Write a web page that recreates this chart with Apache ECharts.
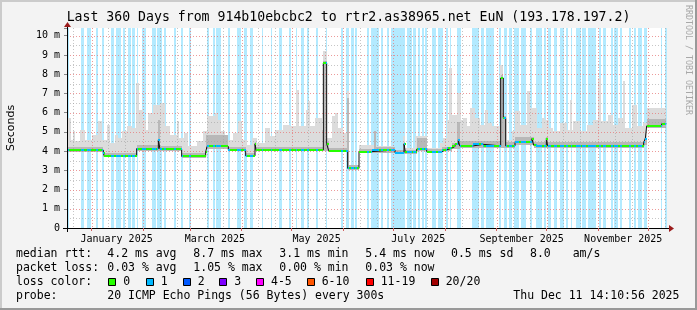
<!DOCTYPE html>
<html><head><meta charset="utf-8">
<script src="https://cdn.jsdelivr.net/npm/echarts@6/dist/echarts.min.js"></script>
<style>html,body{margin:0;padding:0;background:#f3f3f3}#c{width:697px;height:310px}</style>
</head><body><div id="c"></div>
<script>
// ---------------- data ----------------
const TITLE = 'Last 360 Days from 914b10ebcbc2 to rtr2.as38965.net EuN (193.178.197.2)';
const Y_TITLE = 'Seconds';
const START = Date.UTC(2024, 11, 17, 6, 0, 0);   // left edge of the time axis
const SPAN_DAYS = 360;
const DATA_END = 359.6;                           // last sample (days from start)
const Y_MAX = 10.4;                               // ms

const monthLabels = ['January 2025', 'March 2025', 'May 2025', 'July 2025', 'September 2025', 'November 2025'];
const monthLabelDates = ['2025-01-16', '2025-03-16', '2025-05-16', '2025-07-16', '2025-09-16', '2025-11-16'];
const monthStartDates = ['2025-01-01', '2025-02-01', '2025-03-01', '2025-04-01', '2025-05-01', '2025-06-01',
  '2025-07-01', '2025-08-01', '2025-09-01', '2025-10-01', '2025-11-01', '2025-12-01'];
const minorDates = ['2024-12-21', '2025-01-11', '2025-01-21', '2025-02-11', '2025-02-21', '2025-03-11', '2025-03-21',
  '2025-04-11', '2025-04-21', '2025-05-11', '2025-05-21', '2025-06-11', '2025-06-21', '2025-07-11', '2025-07-21',
  '2025-08-11', '2025-08-21', '2025-09-11', '2025-09-21', '2025-10-11', '2025-10-21', '2025-11-11', '2025-11-21', '2025-12-11'];
const yMajor = [1, 2, 3, 4, 5, 6, 7, 8, 9, 10];
const yMinor = [0.5, 1.5, 2.5, 3.5, 4.5, 5.5, 6.5, 7.5, 8.5, 9.5];

// periods (days from start) with 1 lost ping out of 20
const lossDays = [[0, 1.2], [8.2, 10.2], [11.8, 14.6], [17.6, 18.8], [20.8, 22.2], [26.2, 28.2], [29.2, 32.6], [33.4, 34.8],
  [36.6, 38.2], [39.2, 40.6], [42.0, 42.6], [45.0, 47.6], [51.0, 53.6], [54.2, 56.8], [58.2, 59.4], [64.2, 65.4],
  [68.6, 69.8], [73.2, 74.4], [84.0, 85.4], [87.4, 88.6], [89.2, 92.6], [96.8, 98.0], [102.2, 104.6], [106.0, 108.2],
  [109.8, 111.8], [116.8, 117.8], [122.6, 123.2], [127.2, 128.8], [133.0, 134.2], [137.2, 138.2], [140.6, 142.2],
  [144.2, 145.2], [149.6, 150.4], [155.2, 156.2], [164.6, 165.4], [167.2, 169.2], [170.4, 172.2], [172.8, 173.8],
  [179.8, 181.2], [182.6, 187.0], [188.6, 189.6], [192.2, 193.4], [194.2, 202.8], [204.2, 206.8], [207.6, 209.4],
  [210.6, 211.8], [213.2, 214.2], [215.0, 215.8], [219.2, 221.2], [222.6, 225.4], [227.2, 228.6], [229.6, 230.2],
  [234.2, 236.2], [243.2, 247.2], [248.2, 250.2], [251.2, 256.2], [259.2, 260.6], [262.2, 263.8], [265.4, 267.2],
  [268.2, 271.2], [272.2, 275.2], [277.6, 279.2], [281.2, 284.8], [286.2, 287.4], [288.8, 290.2], [292.2, 294.2],
  [295.6, 298.2], [299.2, 300.6], [302.2, 303.2], [305.2, 308.2], [309.2, 311.2], [312.6, 317.6], [319.2, 320.2],
  [321.8, 323.4], [326.2, 327.4], [328.2, 330.6], [331.8, 333.2], [337.2, 338.2], [340.2, 341.4], [342.6, 345.2],
  [346.2, 347.8], [356.2, 357.2], [358.6, 359.8]];

// median rtt (ms), value held from given day onward
const medianSteps = [[0, 4.05], [21.8, 3.89], [22.4, 3.75], [41.8, 4.13], [54.8, 4.58], [55.8, 4.1], [68.8, 3.72],
  [83.2, 3.95], [84.0, 4.24], [96.8, 4.06], [107.2, 3.75], [112.8, 4.38], [113.4, 4.06], [153.8, 8.58], [155.8, 4.38],
  [157.0, 4.02], [168.4, 3.1], [175.2, 3.97], [182.8, 4.06], [196.8, 3.92], [202.2, 4.38], [203.0, 3.94], [209.8, 4.1],
  [215.8, 3.97], [224.8, 4.06], [227.8, 4.15], [230.8, 4.24], [232.8, 4.35], [234.8, 4.58], [235.6, 4.27], [243.8, 4.35],
  [249.8, 4.27], [260.2, 7.8], [261.8, 5.71], [263.2, 4.27], [268.8, 4.45], [279.0, 4.65], [280.0, 4.3], [281.4, 4.24],
  [287.6, 4.65], [288.4, 4.27], [346.0, 4.45], [347.0, 4.65], [347.8, 5.31], [356.8, 5.42]];

// smoke: highest ping (ms)
const smokeMaxSteps = [[0, 5.71], [2.2, 4.58], [3.8, 5.02], [4.8, 4.5], [7.8, 5.1], [10.8, 4.58], [14.8, 4.84], [18.8, 5.54],
  [20.8, 4.58], [23.8, 5.36], [25.8, 4.41], [28.8, 4.84], [30.8, 4.67], [32.8, 5.02], [35.8, 5.28], [38.8, 5.19],
  [41.4, 7.54], [43.0, 6.15], [45.8, 5.62], [47.4, 5.1], [48.8, 5.97], [51.8, 6.41], [55.8, 6.5], [58.8, 5.28],
  [61.8, 4.84], [66.2, 5.54], [67.4, 4.67], [70.2, 4.93], [72.8, 4.24], [77.8, 4.5], [81.8, 5.02], [83.8, 5.8],
  [88.8, 5.97], [90.8, 5.62], [92.2, 5.02], [94.8, 4.84], [96.8, 4.58], [99.8, 4.93], [102.8, 5.54], [104.8, 4.58],
  [107.8, 4.32], [110.8, 4.67], [113.8, 4.41], [118.8, 5.19], [121.8, 4.76], [124.8, 5.1], [129.8, 5.36], [133.8, 5.28],
  [137.4, 7.19], [139.4, 5.28], [143.4, 6.15], [144.6, 6.58], [145.8, 5.28], [148.8, 5.71], [152.8, 5.1], [153.8, 9.18],
  [155.8, 4.67], [158.8, 5.8], [160.8, 5.97], [162.8, 5.19], [165.8, 4.93], [168.2, 7.1], [169.4, 3.28], [175.2, 4.32],
  [184.2, 5.02], [185.4, 4.27], [195.8, 3.98], [201.8, 4.76], [203.0, 4.15], [208.8, 4.76], [215.8, 4.15], [223.8, 4.41],
  [225.8, 4.67], [228.2, 5.62], [229.4, 8.32], [230.8, 5.89], [234.2, 7.02], [235.8, 5.62], [237.8, 5.71], [239.8, 5.28],
  [241.8, 6.23], [244.8, 5.71], [247.8, 5.36], [250.8, 6.15], [252.8, 5.45], [254.8, 5.28], [259.8, 8.49], [261.8, 5.8],
  [263.8, 4.58], [266.8, 5.02], [268.8, 6.06], [271.8, 5.36], [275.8, 7.1], [277.8, 6.23], [281.8, 5.19], [284.8, 5.71],
  [286.8, 5.62], [288.8, 5.19], [291.8, 5.02], [295.8, 5.45], [299.8, 5.1], [301.8, 6.67], [303.0, 5.1], [303.8, 5.54],
  [307.8, 5.02], [311.8, 5.36], [315.8, 5.62], [318.8, 7.8], [320.2, 5.54], [324.8, 5.89], [327.8, 5.36], [330.8, 5.71],
  [333.4, 7.62], [335.0, 5.19], [338.8, 6.41], [341.8, 5.28], [345.8, 5.45], [347.8, 6.23]];

// smoke: upper edge of the dense (darker) part
const smokeCoreSteps = [[0, 4.2], [21.8, 3.92], [41.8, 4.3], [54.8, 5.6], [55.8, 4.25], [68.8, 3.9], [83.2, 4.85],
  [96.8, 4.22], [107.2, 3.9], [112.8, 4.45], [113.4, 4.2], [153.8, 8.7], [155.8, 4.45], [157.0, 4.18], [168.2, 6.77],
  [168.8, 3.3], [175.2, 4.12], [184.2, 5.02], [185.4, 4.22], [196.8, 4.05], [202.2, 4.45], [203.0, 4.08], [209.8, 4.7],
  [215.8, 4.12], [224.8, 4.22], [230.8, 4.4], [234.2, 5.5], [235.6, 4.5], [260.2, 7.95], [261.8, 5.8], [263.2, 4.48],
  [268.8, 4.75], [280.0, 4.45], [287.6, 4.75], [288.4, 4.45], [346.0, 4.7], [347.8, 5.65]];

// smoke: lowest ping (ms)
const smokeMinSteps = [[0, 3.97], [21.8, 3.68], [41.8, 4.02], [68.8, 3.63], [83.2, 4.12], [96.8, 3.98], [107.2, 3.67],
  [112.8, 3.98], [168.4, 3.02], [175.2, 3.9], [196.8, 3.84], [209.8, 4.0], [215.8, 3.9], [224.8, 3.98], [230.8, 4.12],
  [235.6, 4.18], [268.8, 4.32], [280.0, 4.16], [346.0, 4.3], [347.8, 5.2]];

const lossColors = [['0', '#26ff00'], ['1', '#00b8ff'], ['2', '#0059ff'], ['3', '#7e00ff'], ['4-5', '#ff00ff'],
  ['6-10', '#ff5500'], ['11-19', '#ff0000'], ['20/20', '#a10000']];

const legendRows = [
  [['median rtt:', 16], ['4.2 ms avg', 107.3], ['8.7 ms max', 193.3], ['3.1 ms min', 279.3], ['5.4 ms now', 365.3], ['0.5 ms sd', 451], ['8.0', 530], ['am/s', 572.7]],
  [['packet loss:', 16], ['0.03 % avg', 107.3], ['1.05 % max', 193.3], ['0.00 % min', 279.3], ['0.03 % now', 365.3]],
  [['loss color:', 16]],
  [['probe:', 16], ['20 ICMP Echo Pings (56 Bytes) every 300s', 107.3], ['Thu Dec 11 14:10:56 2025', 513.3]]
];
const legendBoxX = [108.3, 145.7, 182.7, 219.3, 256, 306.7, 365.7, 430.7];
const legendRowY = [254, 268, 282, 296];

// ---------------- helpers ----------------
const toDay = s => (Date.parse(s + 'T00:00:00Z') - START) / 86400000;
function stepAt(steps, d) { let v = steps[0][1]; for (const s of steps) { if (s[0] <= d + 1e-9) v = s[1]; else break; } return v; }
function inLoss(d) { return lossDays.some(r => d >= r[0] && d < r[1]); }
function breaks(...lists) {
  const set = new Set([0, DATA_END]);
  lists.forEach(l => l.forEach(p => { if (p[0] >= 0 && p[0] <= DATA_END) set.add(p[0]); }));
  return Array.from(set).sort((a, b) => a - b);
}

const sb = breaks(smokeMaxSteps, smokeMinSteps, smokeCoreSteps);
const smokeLight = [], smokeDark = [];
for (let i = 0; i < sb.length - 1; i++) {
  const a = sb[i], b = sb[i + 1];
  const lo = stepAt(smokeMinSteps, a), core = stepAt(smokeCoreSteps, a), hi = Math.max(stepAt(smokeMaxSteps, a), core);
  smokeLight.push([a, b, lo, hi]);
  smokeDark.push([a, b, lo, core]);
}
const mb = breaks(medianSteps, lossDays.map(r => [r[0]]), lossDays.map(r => [r[1]]));
const medianSegs = [];
for (let i = 0; i < mb.length - 1; i++) {
  const a = mb[i], b = mb[i + 1];
  medianSegs.push([a, b, stepAt(medianSteps, a), inLoss((a + b) / 2) ? 1 : 0]);
}
const medianLine = medianSteps.map(p => [p[0], p[1]]).concat([[DATA_END, medianSteps[medianSteps.length - 1][1]]]);

function rectItem(color) {
  return function (params, api) {
    const p0 = api.coord([api.value(0), api.value(3)]);
    const p1 = api.coord([api.value(1), api.value(2)]);
    const x0 = Math.round(p0[0]), x1 = Math.round(p1[0]);
    const y0 = Math.round(p0[1]), y1 = Math.round(p1[1]);
    return { type: 'rect', shape: { x: x0, y: y0, width: Math.max(1, x1 - x0), height: Math.max(1, y1 - y0) }, style: { fill: color } };
  };
}

const vGrid = monthStartDates.map(s => [toDay(s), 1]).concat(minorDates.map(s => [toDay(s), 0]));
const hGrid = yMajor.map(v => [v, 1]).concat(yMinor.map(v => [v, 0]));
const MAJOR = 'rgba(230,120,120,0.75)', MINOR = 'rgba(160,160,160,0.6)';

const MONO = '"DejaVu Sans Mono", "Liberation Mono", monospace';
const chart = echarts.init(document.getElementById('c'), null, { renderer: 'canvas', width: 697, height: 310 });

const option = {
  backgroundColor: '#f3f3f3',
  animation: false,
  grid: { left: 67, top: 28, width: 600, height: 200, show: true, backgroundColor: '#ffffff', borderWidth: 0,
    containLabel: false, outerBoundsMode: 'none' },
  xAxis: {
    type: 'value', min: 0, max: SPAN_DAYS, z: 10,
    axisLine: { show: true, lineStyle: { color: '#000', width: 1 } },
    axisTick: { show: true, length: 3, inside: false, customValues: monthStartDates.map(toDay), lineStyle: { color: '#d06060' } },
    splitLine: { show: false },
    axisLabel: {
      customValues: monthLabelDates.map(toDay), margin: 6,
      fontFamily: MONO, fontSize: 10, color: '#000',
      formatter: v => { const i = monthLabelDates.map(toDay).findIndex(d => Math.abs(d - v) < 1e-6); return i >= 0 ? monthLabels[i] : ''; }
    }
  },
  yAxis: {
    type: 'value', min: 0, max: Y_MAX, interval: 1, z: 10,
    axisLine: { show: true, lineStyle: { color: '#000', width: 1 } },
    axisTick: { show: true, length: 3, lineStyle: { color: '#888' } },
    splitLine: { show: false },
    axisLabel: {
      margin: 7, fontFamily: MONO, fontSize: 10, color: '#000',
      formatter: v => (Math.abs(v - Math.round(v)) > 1e-6 ? '' : (v === 0 ? '0' : Math.round(v) + ' m'))
    }
  },
  series: [
    { type: 'custom', name: 'loss', z: 1, clip: true, data: lossDays,
      renderItem: (params, api) => {
        const p0 = api.coord([api.value(0), Y_MAX]), p1 = api.coord([api.value(1), 0]);
        const x0 = Math.round(p0[0]), x1 = Math.round(p1[0]);
        return { type: 'rect', shape: { x: x0, y: p0[1], width: Math.max(1, x1 - x0), height: p1[1] - p0[1] }, style: { fill: '#b3eaff' } };
      } },
    { type: 'custom', name: 'smokeLight', z: 2, clip: true, data: smokeLight, renderItem: rectItem('#dcdcdc') },
    { type: 'custom', name: 'smokeDark', z: 2, clip: true, data: smokeDark, renderItem: rectItem('#b8b8b8') },
    { type: 'custom', name: 'vgrid', z: 3, clip: true, data: vGrid, silent: true,
      renderItem: (params, api) => {
        const x = Math.round(api.coord([api.value(0), 0])[0]) + 0.5;
        const top = api.coord([0, Y_MAX])[1], bot = api.coord([0, 0])[1];
        return { type: 'line', shape: { x1: x, y1: top, x2: x, y2: bot },
          style: { stroke: api.value(1) ? MAJOR : MINOR, lineWidth: 1, lineDash: [1, 2] } };
      } },
    { type: 'custom', name: 'hgrid', z: 3, clip: true, data: hGrid, silent: true,
      renderItem: (params, api) => {
        const y = Math.round(api.coord([0, api.value(0)])[1]) + 0.5;
        const l = api.coord([0, 0])[0], r = api.coord([SPAN_DAYS, 0])[0];
        return { type: 'line', shape: { x1: l, y1: y, x2: r, y2: y },
          style: { stroke: api.value(1) ? MAJOR : MINOR, lineWidth: 1, lineDash: [1, 2] } };
      } },
    { type: 'line', name: 'median', z: 4, step: 'end', data: medianLine, showSymbol: false,
      lineStyle: { color: '#111', width: 1 } },
    { type: 'custom', name: 'medianColor', z: 5, clip: true, data: medianSegs,
      renderItem: (params, api) => {
        const p0 = api.coord([api.value(0), api.value(2)]), p1 = api.coord([api.value(1), api.value(2)]);
        const x0 = Math.round(p0[0]), x1 = Math.round(p1[0]), y = Math.round(p0[1]);
        return { type: 'rect', shape: { x: x0, y: y - 1, width: Math.max(1, x1 - x0), height: 2 },
          style: { fill: api.value(3) ? lossColors[1][1] : lossColors[0][1] } };
      } }
  ]
};
chart.setOption(option);

// ---------------- decorations & texts ----------------
const o = chart.convertToPixel({ gridIndex: 0 }, [0, 0]);
const e = chart.convertToPixel({ gridIndex: 0 }, [SPAN_DAYS, Y_MAX]);
const g = [];
g.push({ type: 'rect', shape: { x: 0, y: 0, width: 697, height: 2 }, style: { fill: '#cbcbcb' }, z: 100 });
g.push({ type: 'rect', shape: { x: 0, y: 0, width: 2, height: 310 }, style: { fill: '#cbcbcb' }, z: 100 });
g.push({ type: 'rect', shape: { x: 0, y: 308, width: 697, height: 2 }, style: { fill: '#999999' }, z: 100 });
g.push({ type: 'rect', shape: { x: 695, y: 0, width: 2, height: 310 }, style: { fill: '#999999' }, z: 100 });
g.push({ type: 'line', shape: { x1: e[0], y1: o[1] + 0.5, x2: e[0] + 3, y2: o[1] + 0.5 }, style: { stroke: '#000', lineWidth: 1 }, z: 100 });
g.push({ type: 'line', shape: { x1: o[0] - 4, y1: o[1] + 0.5, x2: o[0], y2: o[1] + 0.5 }, style: { stroke: '#000', lineWidth: 1 }, z: 100 });
g.push({ type: 'line', shape: { x1: o[0] + 0.5, y1: o[1], x2: o[0] + 0.5, y2: o[1] + 4 }, style: { stroke: '#000', lineWidth: 1 }, z: 100 });
g.push({ type: 'line', shape: { x1: o[0] + 0.5, y1: e[1], x2: o[0] + 0.5, y2: e[1] - 3 }, style: { stroke: '#000', lineWidth: 1 }, z: 100 });
g.push({ type: 'polygon', shape: { points: [[e[0] + 2, o[1] - 3], [e[0] + 7, o[1] + 0.5], [e[0] + 2, o[1] + 4]] }, style: { fill: '#9b1c1c' }, z: 101 });
g.push({ type: 'polygon', shape: { points: [[o[0] - 3, e[1] - 1], [o[0] + 0.5, e[1] - 6], [o[0] + 4, e[1] - 1]] }, style: { fill: '#9b1c1c' }, z: 101 });
g.push({ type: 'text', x: 348.5, y: 18, z: 100, style: { text: TITLE, font: '13.2px ' + MONO, fill: '#000', align: 'center', verticalAlign: 'middle' } });
g.push({ type: 'text', x: 11, y: 128, rotation: Math.PI / 2, z: 100,
  style: { text: Y_TITLE, font: '11px "DejaVu Sans", sans-serif', fill: '#000', align: 'center', verticalAlign: 'middle' } });
g.push({ type: 'text', x: 688, y: 60, rotation: -Math.PI / 2, z: 100,
  style: { text: 'RRDTOOL / TOBI OETIKER', font: '8.3px ' + MONO, fill: '#a8a8a8', align: 'center', verticalAlign: 'middle' } });
legendRows.forEach((row, ri) => row.forEach(([t, x]) => {
  g.push({ type: 'text', x: x, y: legendRowY[ri], z: 100, style: { text: t, font: '11.5px ' + MONO, fill: '#000', align: 'left', verticalAlign: 'middle' } });
}));
lossColors.forEach(([lab, col], i) => {
  const bx = legendBoxX[i];
  g.push({ type: 'rect', shape: { x: Math.round(bx) + 0.5, y: legendRowY[2] - 3.5, width: 7, height: 7 }, style: { fill: col, stroke: '#000', lineWidth: 1 }, z: 100 });
  g.push({ type: 'text', x: bx + 15, y: legendRowY[2], z: 100, style: { text: lab, font: '11.5px ' + MONO, fill: '#000', align: 'left', verticalAlign: 'middle' } });
});
chart.setOption({ graphic: g });
</script>
</body></html>
